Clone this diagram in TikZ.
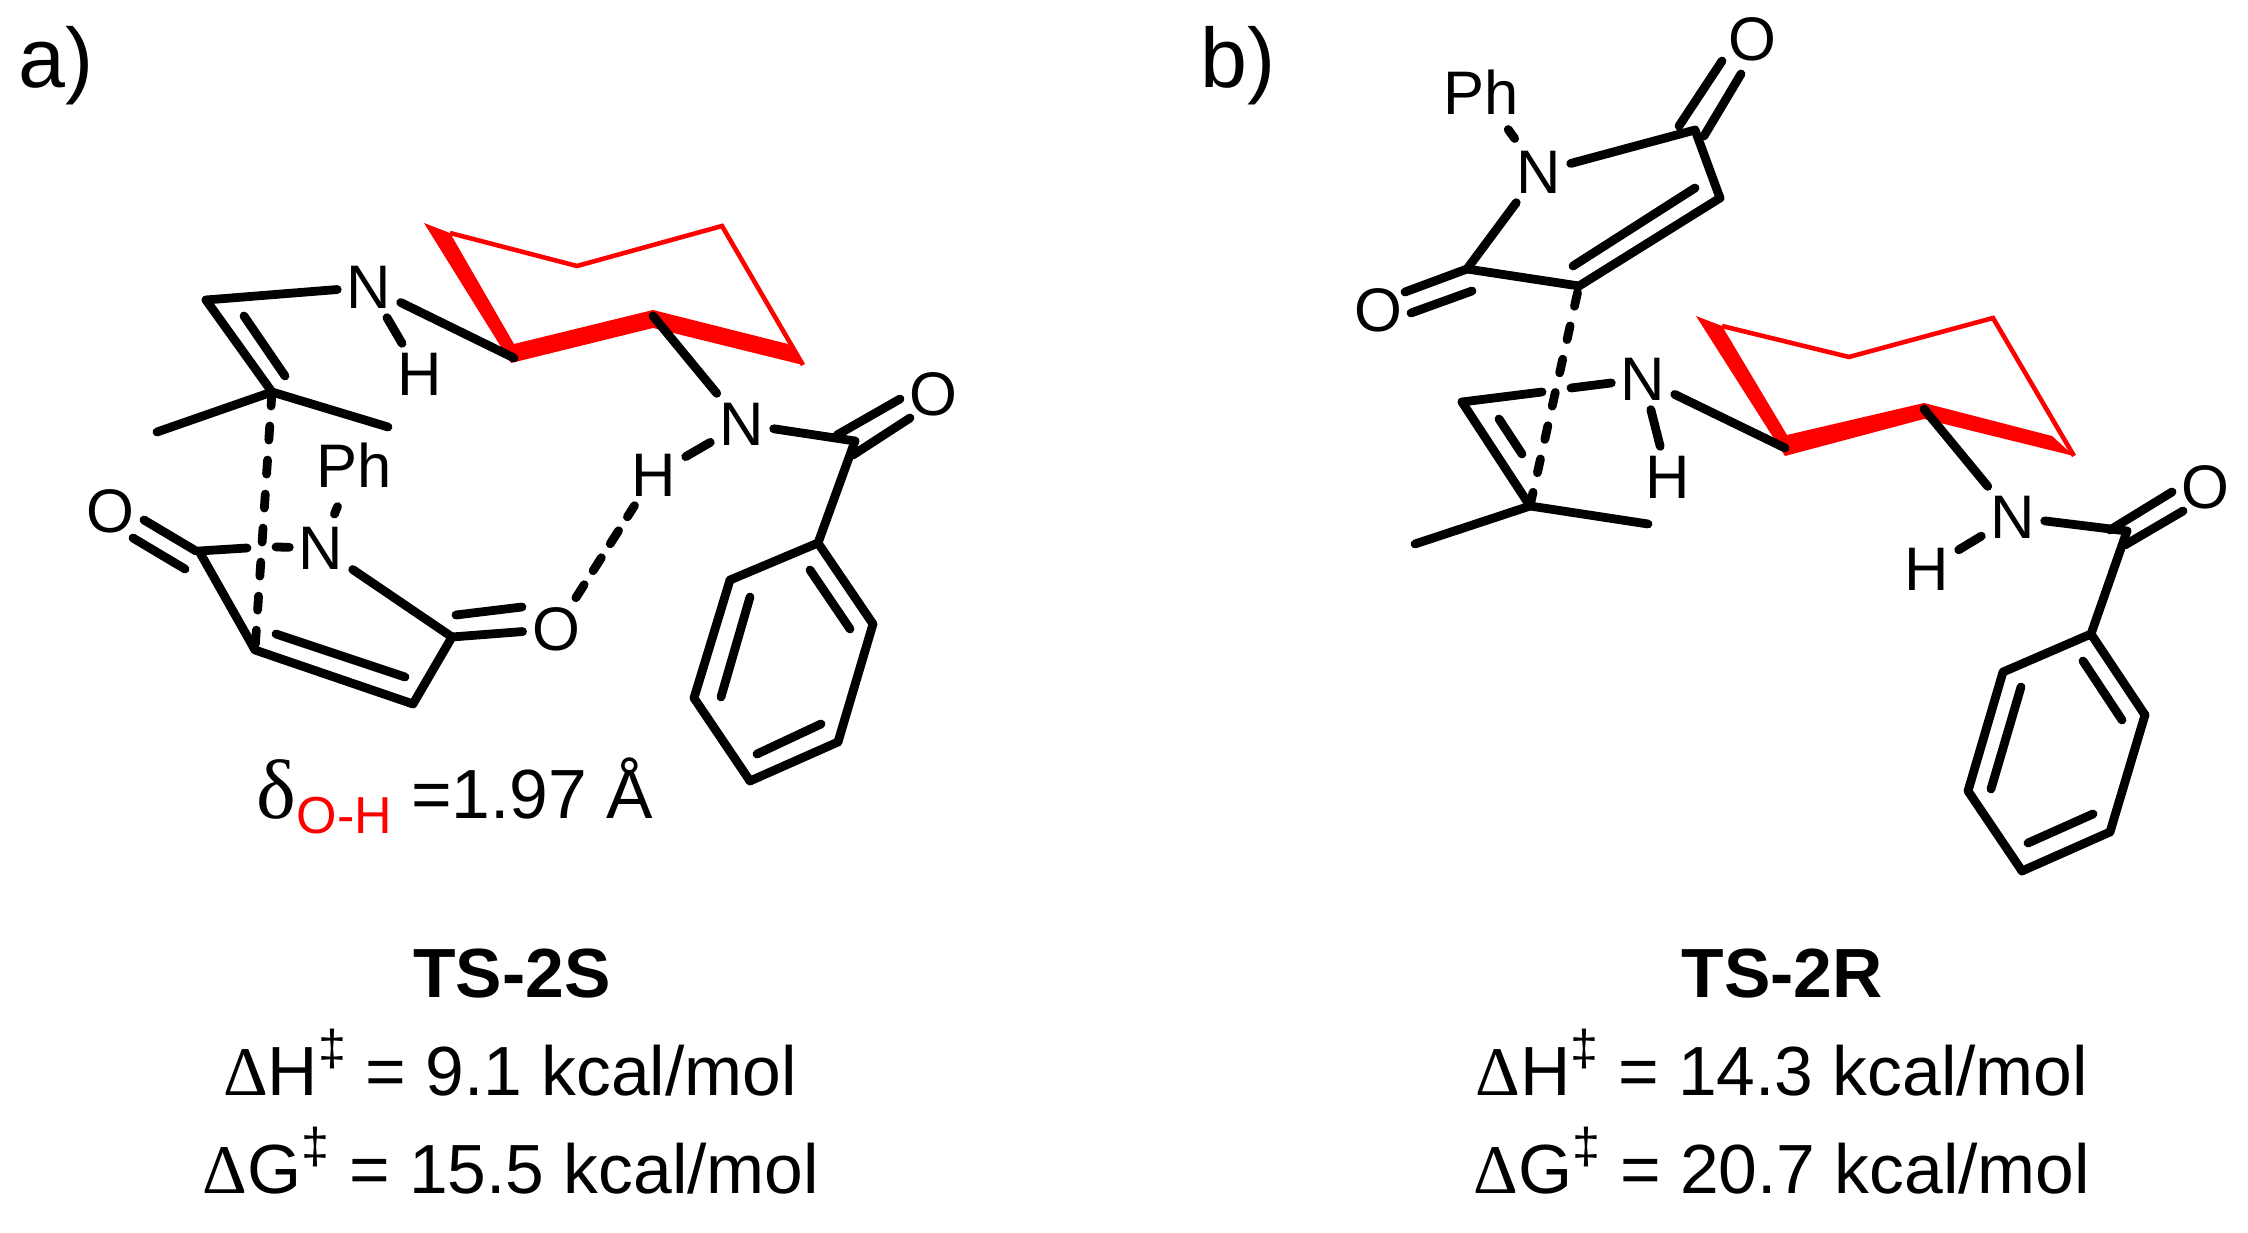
\documentclass[tikz,border=0pt]{standalone}
\usepackage{fontspec}
\setmainfont{Liberation Sans}
\newfontfamily\symfont{Liberation Serif}
\usetikzlibrary{positioning}
\newcommand{\dagsup}{\raisebox{8.3pt}{\fontsize{14.3}{14.3}\selectfont ‡}}
\newcommand{\delt}{{\symfont Δ}}
\tikzset{
    atom/.style = {font=\fontsize{17.5}{17.5}\selectfont, inner sep=2.5pt}, % atom labels, the inner sep gives the gap at the bond ends
    txt/.style = {font=\fontsize{19.8}{19.8}\selectfont, inner sep=0pt, anchor=base},
    tagtxt/.style = {font=\fontsize{24}{24}\selectfont, inner sep=0pt, anchor=base west},
    bond/.style = {line width=2.5pt, line cap=round},
    tsbond/.style = {line width=2.5pt, line cap=round, dash pattern=on 4pt off 5.7pt},
    hbond/.style = {line width=2.5pt, line cap=round, dash pattern=on 4.4pt off 4.7pt},
    ringthin/.style = {red, line width=1.3pt, line join=miter},
    ringbold/.style = {red, fill=red, draw=none}
}
\begin{document}
\begin{tikzpicture}[x=1cm, y=-1cm]
    \useasboundingbox (0,0) rectangle (22.48,12.33);
    \node[tagtxt] (taga) at (0.18,0.88) {a)};
    \node[tagtxt] (tagb) at (12.00,0.88) {b)};

    % a) ring
    \coordinate (ra1) at (4.24,2.23);
    \coordinate (ra2) at (4.50,2.33);
    \coordinate (ra3) at (5.14,3.44);
    \coordinate (ra4) at (6.53,3.10);
    \coordinate (ra5) at (7.88,3.44);
    \coordinate (ra6) at (8.03,3.65);
    \coordinate (ra7) at (6.53,3.28);
    \coordinate (ra8) at (5.11,3.63);
    \coordinate (ra9) at (5.77,2.66);
    \coordinate (ra10) at (7.22,2.26);
    \fill[ringbold] (ra1) -- (ra2) -- (ra3) -- (ra4) -- (ra5) -- (ra6) -- (ra7) -- (ra8) -- cycle;
    \draw[ringthin] (ra2) -- (ra9) -- (ra10) -- (ra6);

    % a) atoms
    \node[atom] (n1a) at (3.69,2.87) {N};
    \node[atom] (h1a) at (4.20,3.74) {H};
    \node[atom] (n2a) at (7.42,4.24) {N};
    \node[atom] (h2a) at (6.54,4.75) {H};
    \node[atom] (o2a) at (9.33,3.94) {O};
    \node[atom] (pha) at (3.54,4.65) {Ph};
    \node[atom] (n3a) at (3.21,5.48) {N};
    \node[atom] (o3a) at (1.10,5.11) {O};
    \node[atom] (o6a) at (5.56,6.29) {O};
    \coordinate (c1a) at (2.06,3.00);
    \coordinate (c2a) at (2.72,3.92);
    \coordinate (m1a) at (1.57,4.32);
    \coordinate (m2a) at (3.88,4.27);
    \coordinate (c3a) at (1.99,5.51);
    \coordinate (c4a) at (2.55,6.50);
    \coordinate (c5a) at (4.13,7.04);
    \coordinate (c6a) at (4.52,6.37);
    \coordinate (f1a) at (5.14,3.58);
    \coordinate (e1a) at (6.53,3.16);
    \coordinate (co1a) at (8.55,4.41);
    \coordinate (p1a) at (8.18,5.43);
    \coordinate (p2a) at (8.73,6.24);
    \coordinate (p3a) at (8.38,7.42);
    \coordinate (p4a) at (7.50,7.81);
    \coordinate (p5a) at (6.94,6.98);
    \coordinate (p6a) at (7.30,5.80);

    % a) bond ends that stay free
    \coordinate (d1a) at (2.44,3.16);
    \coordinate (d2a) at (2.85,3.76);
    \coordinate (d3a) at (2.76,6.34);
    \coordinate (d4a) at (4.05,6.77);
    \coordinate (d5a) at (4.56,6.15);
    \coordinate (d6a) at (5.22,6.07);
    \coordinate (d7a) at (1.44,5.20);
    \coordinate (d8a) at (1.96,5.51);
    \coordinate (d9a) at (1.33,5.38);
    \coordinate (d10a) at (1.85,5.69);
    \coordinate (d11a) at (8.37,4.35);
    \coordinate (d12a) at (9.00,3.99);
    \coordinate (d13a) at (8.53,4.55);
    \coordinate (d14a) at (9.10,4.18);
    \coordinate (g1a) at (2.47,5.48);
    \coordinate (g2a) at (2.76,5.47);
    \coordinate (i1a) at (8.10,5.70);
    \coordinate (i2a) at (8.50,6.29);
    \coordinate (i3a) at (7.57,7.54);
    \coordinate (i4a) at (8.21,7.24);
    \coordinate (i5a) at (7.21,6.97);
    \coordinate (i6a) at (7.50,5.97);

    \path[bond] (c1a) edge (n1a);
    \path[bond] (n1a) edge (f1a);
    \path[bond] (n1a) edge (h1a);
    \path[bond] (c1a) edge (c2a);
    \path[bond] (d1a) edge (d2a);
    \path[bond] (c2a) edge (m1a);
    \path[bond] (c2a) edge (m2a);
    \path[bond] (e1a) edge (n2a);
    \path[bond] (n2a) edge (h2a);
    \path[bond] (n2a) edge (co1a);
    \path[bond] (d11a) edge (d12a);
    \path[bond] (d13a) edge (d14a);
    \path[bond] (co1a) edge (p1a);
    \path[bond] (p1a) edge (p2a);
    \path[bond] (p2a) edge (p3a);
    \path[bond] (p3a) edge (p4a);
    \path[bond] (p4a) edge (p5a);
    \path[bond] (p5a) edge (p6a);
    \path[bond] (p6a) edge (p1a);
    \path[bond] (i1a) edge (i2a);
    \path[bond] (i3a) edge (i4a);
    \path[bond] (i5a) edge (i6a);
    \path[bond, shorten <=3pt, shorten >=1pt] (pha) edge (n3a);
    \path[bond] (c3a) edge (g1a);
    \path[bond] (g2a) edge (n3a);
    \path[bond] (n3a) edge (c6a);
    \path[bond] (c3a) edge (c4a);
    \path[bond] (c4a) edge (c5a);
    \path[bond] (c5a) edge (c6a);
    \path[bond] (d3a) edge (d4a);
    \path[bond] (c6a) edge (o6a);
    \path[bond] (d5a) edge (d6a);
    \path[bond] (d7a) edge (d8a);
    \path[bond] (d9a) edge (d10a);
    \path[tsbond] (c2a) edge (c4a);
    \path[hbond] (o6a) edge (h2a);

    % b) ring
    \coordinate (rb1) at (16.96,3.16);
    \coordinate (rb2) at (17.22,3.26);
    \coordinate (rb3) at (17.87,4.35);
    \coordinate (rb4) at (19.24,4.03);
    \coordinate (rb5) at (20.52,4.36);
    \coordinate (rb6) at (20.74,4.56);
    \coordinate (rb7) at (19.24,4.19);
    \coordinate (rb8) at (17.85,4.56);
    \coordinate (rb9) at (18.49,3.57);
    \coordinate (rb10) at (19.93,3.18);
    \fill[ringbold] (rb1) -- (rb2) -- (rb3) -- (rb4) -- (rb5) -- (rb6) -- (rb7) -- (rb8) -- cycle;
    \draw[ringthin] (rb2) -- (rb9) -- (rb10) -- (rb6);

    % b) atoms
    \node[atom] (n1b) at (16.43,3.79) {N};
    \node[atom] (h1b) at (16.68,4.77) {H};
    \node[atom] (n2b) at (20.13,5.17) {N};
    \node[atom] (h2b) at (19.27,5.69) {H};
    \node[atom] (o2b) at (22.05,4.87) {O};
    \node[atom] (phb) at (14.81,0.92) {Ph};
    \node[atom] (n3b) at (15.39,1.72) {N};
    \node[atom] (o3b) at (17.52,0.39) {O};
    \node[atom] (o6b) at (13.78,3.10) {O};
    \coordinate (c1b) at (14.62,4.02);
    \coordinate (c2b) at (15.30,5.06);
    \coordinate (m1b) at (14.15,5.44);
    \coordinate (m2b) at (16.48,5.24);
    \coordinate (c3b) at (15.79,2.86);
    \coordinate (c4b) at (17.20,1.98);
    \coordinate (c5b) at (16.95,1.30);
    \coordinate (c6b) at (14.67,2.69);
    \coordinate (f1b) at (17.85,4.48);
    \coordinate (e1b) at (19.24,4.09);
    \coordinate (co1b) at (21.27,5.31);
    \coordinate (p1b) at (20.91,6.34);
    \coordinate (p2b) at (21.45,7.15);
    \coordinate (p3b) at (21.10,8.32);
    \coordinate (p4b) at (20.22,8.71);
    \coordinate (p5b) at (19.68,7.91);
    \coordinate (p6b) at (20.03,6.72);

    % b) bond ends that stay free
    \coordinate (d1b) at (14.99,4.19);
    \coordinate (d2b) at (15.22,4.54);
    \coordinate (d3b) at (15.73,2.66);
    \coordinate (d4b) at (16.95,1.88);
    \coordinate (d5b) at (16.79,1.26);
    \coordinate (d6b) at (17.22,0.61);
    \coordinate (d7b) at (17.04,1.36);
    \coordinate (d8b) at (17.41,0.74);
    \coordinate (d9b) at (14.05,2.92);
    \coordinate (d10b) at (14.67,2.69);
    \coordinate (d11b) at (14.11,3.13);
    \coordinate (d12b) at (14.72,2.91);
    \coordinate (d13b) at (21.10,5.30);
    \coordinate (d14b) at (21.72,4.92);
    \coordinate (d15b) at (21.25,5.45);
    \coordinate (d16b) at (21.83,5.11);
    \coordinate (g1b) at (15.42,3.92);
    \coordinate (g2b) at (15.71,3.88);
    \coordinate (i1b) at (20.83,6.61);
    \coordinate (i2b) at (21.22,7.20);
    \coordinate (i3b) at (20.28,8.43);
    \coordinate (i4b) at (20.93,8.14);
    \coordinate (i5b) at (19.91,7.89);
    \coordinate (i6b) at (20.21,6.87);

    \path[bond] (c1b) edge (g1b);
    \path[bond] (g2b) edge (n1b);
    \path[bond] (n1b) edge (f1b);
    \path[bond] (n1b) edge (h1b);
    \path[bond] (c1b) edge (c2b);
    \path[bond] (d1b) edge (d2b);
    \path[bond] (c2b) edge (m1b);
    \path[bond] (c2b) edge (m2b);
    \path[bond] (e1b) edge (n2b);
    \path[bond] (n2b) edge (h2b);
    \path[bond] (n2b) edge (co1b);
    \path[bond] (d13b) edge (d14b);
    \path[bond] (d15b) edge (d16b);
    \path[bond] (co1b) edge (p1b);
    \path[bond] (p1b) edge (p2b);
    \path[bond] (p2b) edge (p3b);
    \path[bond] (p3b) edge (p4b);
    \path[bond] (p4b) edge (p5b);
    \path[bond] (p5b) edge (p6b);
    \path[bond] (p6b) edge (p1b);
    \path[bond] (i1b) edge (i2b);
    \path[bond] (i3b) edge (i4b);
    \path[bond] (i5b) edge (i6b);
    \path[bond, shorten <=2pt, shorten >=1pt] (phb) edge (n3b);
    \path[bond] (n3b) edge (c5b);
    \path[bond] (n3b) edge (c6b);
    \path[bond] (c6b) edge (c3b);
    \path[bond] (c3b) edge (c4b);
    \path[bond] (c4b) edge (c5b);
    \path[bond] (d3b) edge (d4b);
    \path[bond] (d5b) edge (d6b);
    \path[bond] (d7b) edge (d8b);
    \path[bond] (d9b) edge (d10b);
    \path[bond] (d11b) edge (d12b);
    \path[tsbond] (c2b) edge (c3b);

    % texts
    \node[txt] (dista) at (4.55,8.19) {{\symfont\fontsize{24}{24}\selectfont δ}{\fontsize{14.8}{14.8}\selectfont\raisebox{-4.2pt}{\textcolor{red}{O-H}}} =1.97 Å};
    \node[txt, font=\fontsize{19.8}{19.8}\selectfont\bfseries] (namea) at (5.12,9.97) {TS-2S};
    \node[txt] (ha) at (5.10,10.95) {\delt H\dagsup{} = 9.1 kcal/mol};
    \node[txt] (ga) at (5.11,11.93) {\delt G\dagsup{} = 15.5 kcal/mol};
    \node[txt, font=\fontsize{19.8}{19.8}\selectfont\bfseries] (nameb) at (17.82,9.97) {TS-2R};
    \node[txt] (hb) at (17.82,10.95) {\delt H\dagsup{} = 14.3 kcal/mol};
    \node[txt] (gb) at (17.82,11.93) {\delt G\dagsup{} = 20.7 kcal/mol};
\end{tikzpicture}
\end{document}
